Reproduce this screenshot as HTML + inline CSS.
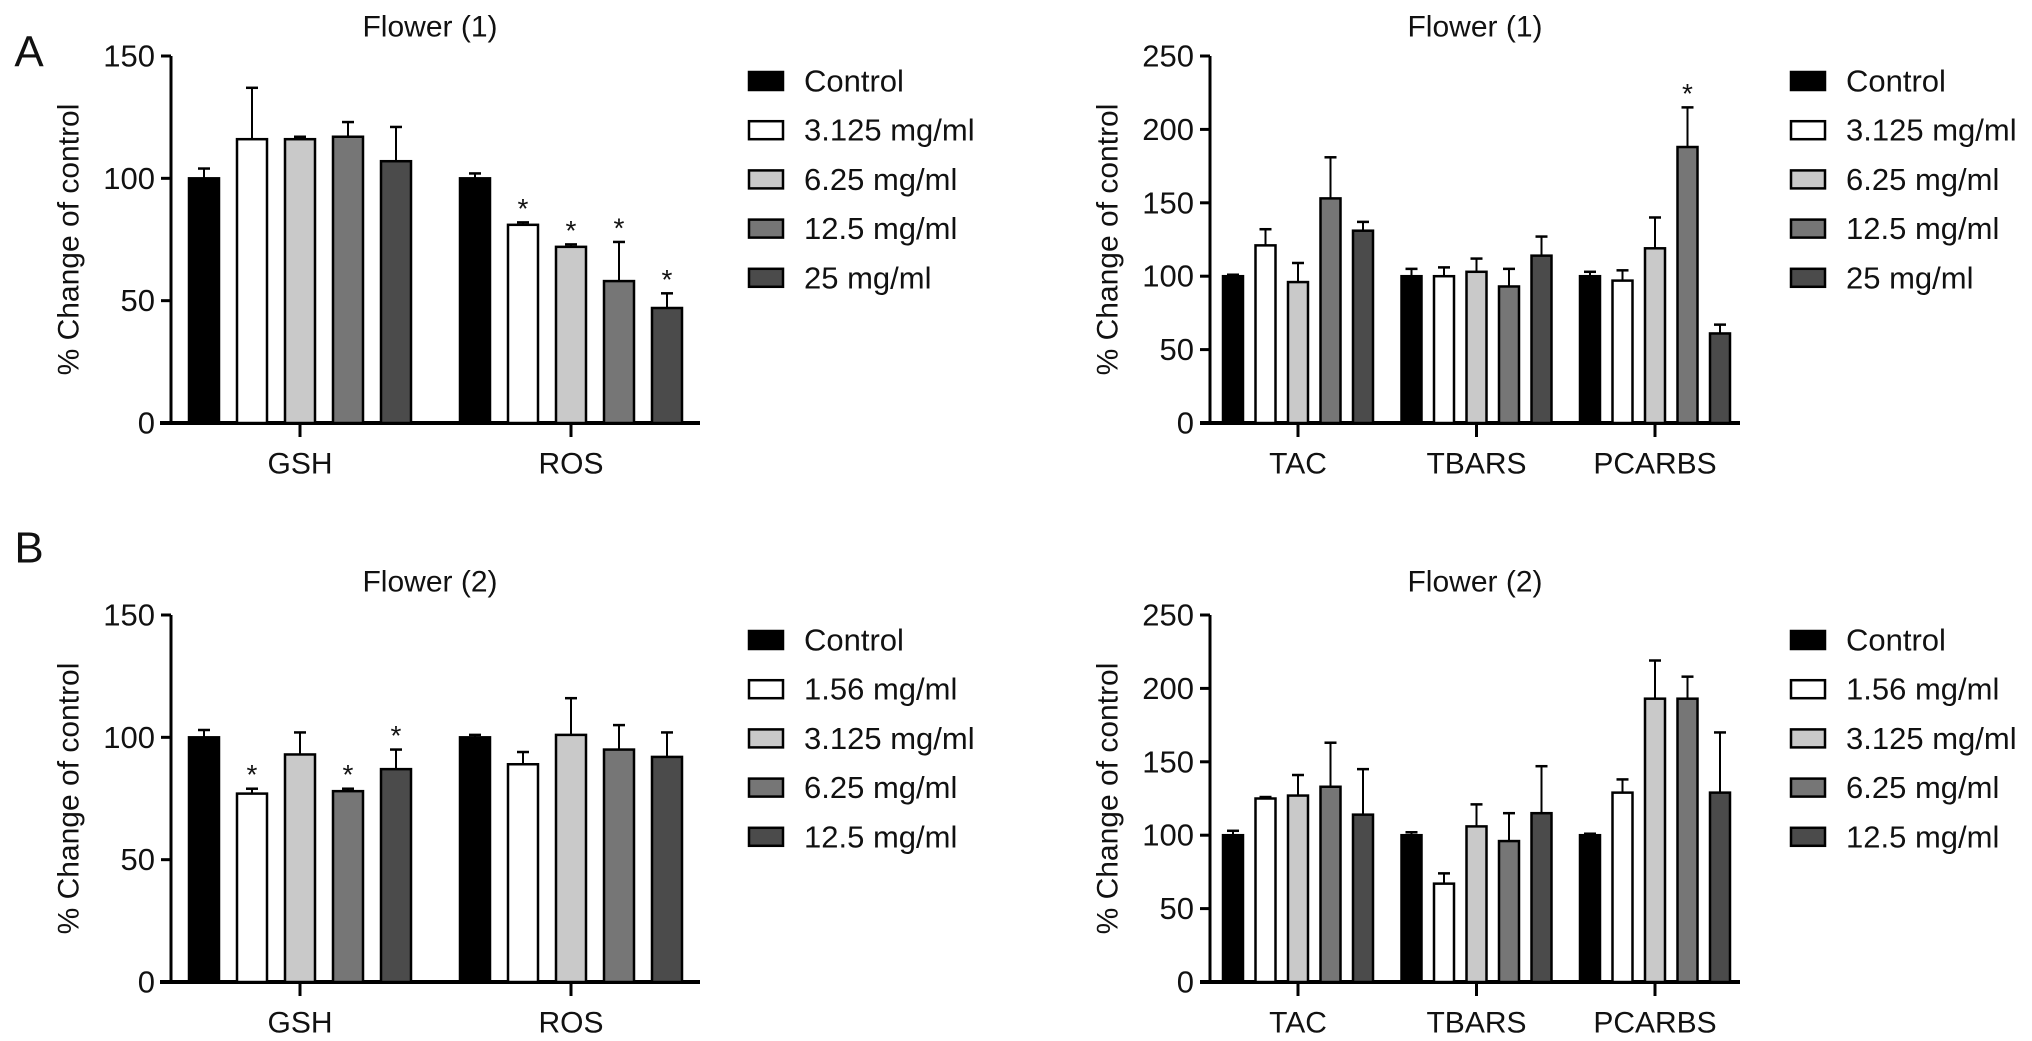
<!DOCTYPE html>
<html><head><meta charset="utf-8"><style>
html,body{margin:0;padding:0;background:#fff;}
svg{display:block;font-family:"Liberation Sans",Arial,sans-serif;}
</style></head><body>
<svg id="fig" width="2032" height="1041" viewBox="0 0 2032 1041" xmlns="http://www.w3.org/2000/svg"></svg>
<script>
const seriesColors = ["#000000","#ffffff","#c9c9c9","#767676","#4b4b4b"];
const legendA = ["Control","3.125 mg/ml","6.25 mg/ml","12.5 mg/ml","25 mg/ml"];
const legendB = ["Control","1.56 mg/ml","3.125 mg/ml","6.25 mg/ml","12.5 mg/ml"];
const catsL = ["GSH","ROS"];
const catsR = ["TAC","TBARS","PCARBS"];
const ticksL = [0,50,100,150];
const ticksR = [0,50,100,150,200,250];
// panel A left
const aLVals = [[100,116,116,117,107],[100,81,72,58,47]];
const aLErr  = [[4,21,1,6,14],[2,1,1,16,6]];
const aLStar = [[0,0,0,0,0],[0,1,1,1,1]];
// panel A right
const aRVals = [[100,121,96,153,131],[100,100,103,93,114],[100,97,119,188,61]];
const aRErr  = [[1,11,13,28,6],[5,6,9,12,13],[3,7,21,27,6]];
const aRStar = [[0,0,0,0,0],[0,0,0,0,0],[0,0,0,1,0]];
// panel B left
const bLVals = [[100,77,93,78,87],[100,89,101,95,92]];
const bLErr  = [[3,2,9,1,8],[1,5,15,10,10]];
const bLStar = [[0,1,0,1,1],[0,0,0,0,0]];
// panel B right
const bRVals = [[100,125,127,133,114],[100,67,106,96,115],[100,129,193,193,129]];
const bRErr  = [[3,1,14,30,31],[2,7,15,19,32],[1,9,26,15,41]];
const bRStar = [[0,0,0,0,0],[0,0,0,0,0],[0,0,0,0,0]];

const NS="http://www.w3.org/2000/svg";
const svg=document.getElementById('fig');
function mk(tag,attrs,parent){const e=document.createElementNS(NS,tag);for(const k in attrs)e.setAttribute(k,attrs[k]);(parent||svg).appendChild(e);return e;}
function txt(s,x,y,size,anchor,parent,rot){const t=mk('text',{x:x,y:y,'font-size':size,'text-anchor':anchor||'middle','dominant-baseline':'central',fill:'#111'},parent);if(rot)t.setAttribute('transform',`rotate(-90 ${x} ${y})`);t.textContent=s;return t;}

function panel(cfg){
  const g=mk('g',{});
  
  
  const y0=cfg.y0, yTop=cfg.yTop, maxV=cfg.ticks[cfg.ticks.length-1];
  const yScale=v=>y0-(v/maxV)*(y0-yTop);
  const ax=mk('line',{x1:cfg.ax,y1:yTop,x2:cfg.ax,y2:y0,stroke:'#000','stroke-width':3},g);
  
  
  cfg.ticks.forEach(t=>{
    const y=yScale(t);
    mk('line',{x1:cfg.ax-10,y1:y,x2:cfg.ax,y2:y,stroke:'#000','stroke-width':3},g);
    const l=txt(String(t),cfg.ax-16,y,31,'end',g);
    
    
  });
  const yt=txt('% Change of control',cfg.ax-102,(y0+yTop)/2,30,'middle',g,true);
  
  
  const xa=mk('line',{x1:cfg.bx0,y1:y0,x2:cfg.bx1,y2:y0,stroke:'#000','stroke-width':4},g);
  
  
  cfg.cats.forEach((c,ci)=>{
    const cx=cfg.c0+ci*cfg.cstep;
    mk('line',{x1:cx,y1:y0,x2:cx,y2:y0+14,stroke:'#000','stroke-width':3},g);
    const cl=txt(c,cx,y0+41,30,'middle',g);
    
    
    cfg.vals[ci].forEach((v,si)=>{
      const bxc=cx+(si-2)*cfg.bstep;
      const top=yScale(v);
      const e=cfg.err[ci][si];
      const ey=yScale(v+e);
      const el=mk('line',{x1:bxc,y1:top,x2:bxc,y2:ey,stroke:'#000','stroke-width':2},g);
      
      
      mk('line',{x1:bxc-6,y1:ey,x2:bxc+6,y2:ey,stroke:'#000','stroke-width':2.5},g);
      const r=mk('rect',{x:bxc-cfg.bw/2,y:top,width:cfg.bw,height:y0-top,fill:seriesColors[si],stroke:'#000','stroke-width':2.5},g);
      
      
      if(cfg.star[ci][si]){
        const s=txt('*',bxc,ey-14,28,'middle',g);
        
        
      }
    });
  });
  const ti=txt(cfg.title,cfg.tx,cfg.ty,30,'middle',g);
  
  
  cfg.legend.forEach((lab,i)=>{
    const ly=cfg.ly0+i*49.2;
    const lg=mk('g',{},g);
    
    
    mk('rect',{x:cfg.lx,y:ly-9,width:34,height:18,fill:seriesColors[i],stroke:'#000','stroke-width':2.5},lg);
    txt(lab,cfg.lx+55,ly,31,'start',lg);
  });
}

panel({name:'panel-a-left',y0:423,yTop:56,ticks:ticksL,ax:171,bx0:160,bx1:700,cats:catsL,c0:300,cstep:271,bstep:48,bw:30,vals:aLVals,err:aLErr,star:aLStar,title:'Flower (1)',tx:430,ty:27,legend:legendA,lx:749,ly0:81});
panel({name:'panel-a-right',y0:423,yTop:56,ticks:ticksR,ax:1210,bx0:1200,bx1:1740,cats:catsR,c0:1298,cstep:178.5,bstep:32.5,bw:20,vals:aRVals,err:aRErr,star:aRStar,title:'Flower (1)',tx:1475,ty:27,legend:legendA,lx:1791,ly0:81});
panel({name:'panel-b-left',y0:982,yTop:615,ticks:ticksL,ax:171,bx0:160,bx1:700,cats:catsL,c0:300,cstep:271,bstep:48,bw:30,vals:bLVals,err:bLErr,star:bLStar,title:'Flower (2)',tx:430,ty:582,legend:legendB,lx:749,ly0:640});
panel({name:'panel-b-right',y0:982,yTop:615,ticks:ticksR,ax:1210,bx0:1200,bx1:1740,cats:catsR,c0:1298,cstep:178.5,bstep:32.5,bw:20,vals:bRVals,err:bRErr,star:bRStar,title:'Flower (2)',tx:1475,ty:582,legend:legendB,lx:1791,ly0:640});

const la=txt('A',29,52,44,'middle');


const lb=txt('B',29,548,44,'middle');


</script>
</body></html>
